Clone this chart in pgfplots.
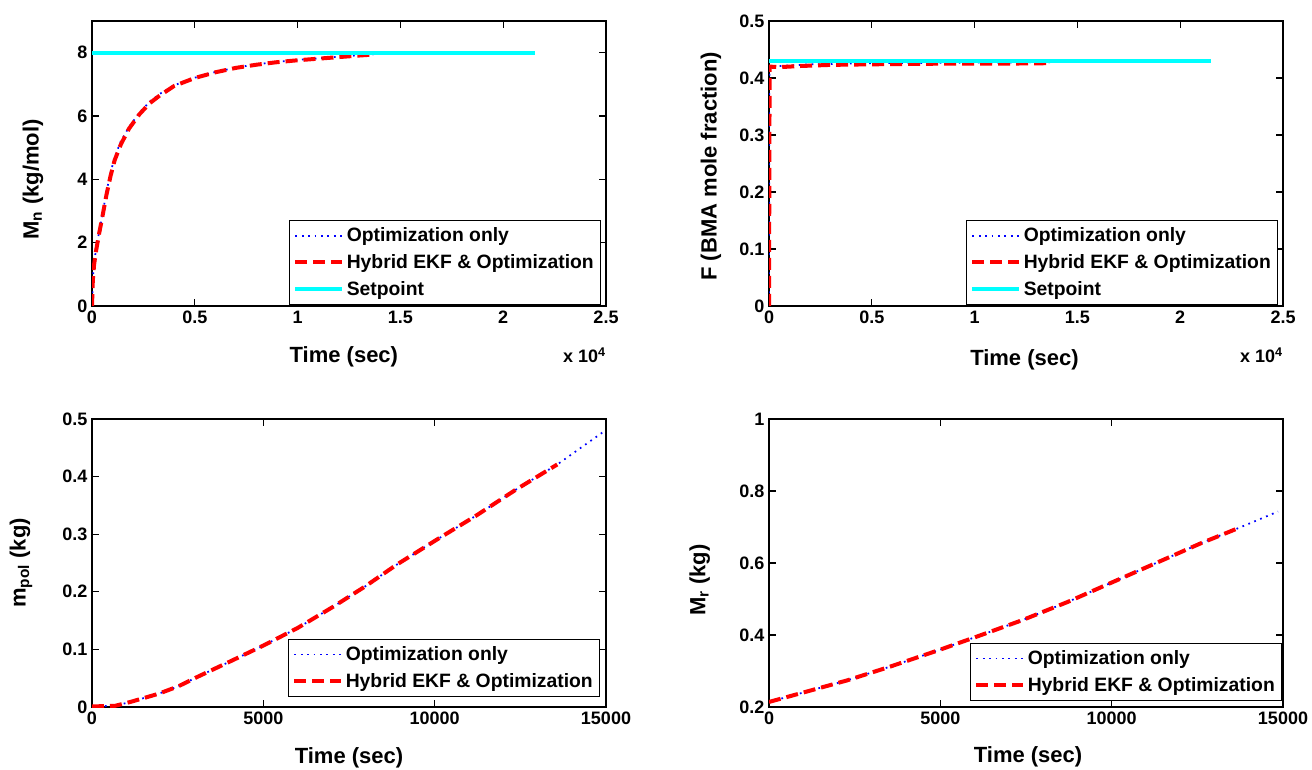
\documentclass[border=0pt]{standalone}
\usepackage{fontspec}
\setmainfont{Liberation Sans}
\usepackage{pgfplots}
\pgfplotsset{compat=1.18}
\definecolor{mcyan}{rgb}{0,1,1}
\definecolor{mblue}{rgb}{0,0,1}
\definecolor{mred}{rgb}{1,0,0}

\pgfplotsset{
  myax/.style={
    scale only axis, width=385.5pt,
    clip mode=individual,
    axis line style={line width=0.9pt},
    every tick/.style={black, line width=0.8pt},
    major tick length=5pt,
    tick align=inside,
    ticklabel style={font=\fontsize{13.5}{13.5}\selectfont\bfseries},
    /pgf/number format/assume math mode=true,
    /pgf/number format/fixed,
    /pgf/number format/1000 sep={},
    scaled ticks=false,
    xlabel style={font=\fontsize{16.5}{16.5}\selectfont\bfseries, anchor=center},
    ylabel style={font=\fontsize{16.5}{16.5}\selectfont\bfseries, anchor=center},
    legend cell align=left,
    legend image code/.code={\draw[##1] (0pt,0pt) -- (35pt,0pt);},
    legend style={font=\fontsize{14.5}{14.5}\selectfont\bfseries, draw=black, line width=0.8pt,
      at={(1,0)}, anchor=south east, inner xsep=3pt, inner ysep=3.5pt, row sep=4pt},
  },
  optonly/.style={mblue, line width=1.3pt, dash pattern=on 1.3pt off 3.5pt},
  hybrid/.style={mred, line width=3pt, dash pattern=on 9pt off 4.5pt},
  setp/.style={mcyan, line width=3pt},
}

\begin{document}
\begin{tikzpicture}
\path[use as bounding box] (0,0) rectangle (984pt,577.5pt);

% ---------- Top-left: Mn ----------
\begin{axis}[myax, at={(69pt,348pt)}, anchor=south west, height=213.75pt,
  xmin=0, xmax=2.5, ymin=0, ymax=9,
  xtick={0,0.5,1,1.5,2,2.5}, ytick={0,2,4,6,8},
  xlabel={Time (sec)}, ylabel={M\textsubscript{n} (kg/mol)},
  xlabel style={at={(axis description cs:0.49,-0.179)}},
  ylabel style={at={(axis description cs:-0.115,0.444)}},
  legend style={xshift=-3.75pt, yshift=0.75pt}]
\addplot[optonly] coordinates {(0,0) (0.004,0.85) (0.01,1.35) (0.02,1.8) (0.035,2.35) (0.05,2.85) (0.07,3.6) (0.09,4.2) (0.11,4.7) (0.14,5.2) (0.18,5.65) (0.23,6.1) (0.28,6.45) (0.33,6.7) (0.4,6.97) (0.5,7.21) (0.6,7.39) (0.7,7.53) (0.8,7.63) (0.9,7.71) (1.0,7.77) (1.1,7.82) (1.2,7.87) (1.3,7.92) (1.37,7.95) (1.45,7.99)};
\addlegendentry{Optimization only}
\addplot[hybrid] coordinates {(0,0) (0.004,0.8) (0.01,1.3) (0.02,1.75) (0.035,2.3) (0.05,2.8) (0.07,3.5) (0.09,4.1) (0.11,4.6) (0.14,5.1) (0.18,5.6) (0.23,6.05) (0.28,6.4) (0.33,6.65) (0.4,6.95) (0.5,7.2) (0.6,7.38) (0.7,7.52) (0.8,7.62) (0.9,7.7) (1.0,7.76) (1.1,7.81) (1.2,7.86) (1.3,7.91) (1.37,7.94)};
\addlegendentry{Hybrid EKF \& Optimization}
\addplot[setp] coordinates {(0,8) (2.155,8)};
\addlegendentry{Setpoint}
\node[anchor=base east, inner sep=0pt, font=\fontsize{13.5}{13.5}\selectfont\bfseries] at (rel axis cs:1,0) [yshift=-42.75pt] {x 10\textsuperscript{4}};
\end{axis}

% ---------- Top-right: F ----------
\begin{axis}[myax, at={(576.75pt,348pt)}, anchor=south west, height=213.75pt,
  xmin=0, xmax=2.5, ymin=0, ymax=0.5,
  xtick={0,0.5,1,1.5,2,2.5}, ytick={0,0.1,0.2,0.3,0.4,0.5},
  xlabel={Time (sec)}, ylabel={F (BMA mole fraction)},
  xlabel style={at={(axis description cs:0.497,-0.19)}},
  ylabel style={at={(axis description cs:-0.113,0.49)}},
  legend style={xshift=-3.75pt, yshift=0.75pt}]
\addplot[optonly] coordinates {(0,0) (0.002,0.42) (0.05,0.421) (0.2,0.424) (0.5,0.426) (1.0,0.427) (1.47,0.428)};
\addlegendentry{Optimization only}
\addplot[hybrid] coordinates {(0,0) (0.003,0.42) (0.05,0.419) (0.15,0.421) (0.3,0.423) (0.5,0.424) (0.8,0.425) (1.1,0.425) (1.37,0.426)};
\addlegendentry{Hybrid EKF \& Optimization}
\addplot[setp] coordinates {(0,0.43) (2.15,0.43)};
\addlegendentry{Setpoint}
\node[anchor=base east, inner sep=0pt, font=\fontsize{13.5}{13.5}\selectfont\bfseries] at (rel axis cs:1,0) [yshift=-42.75pt] {x 10\textsuperscript{4}};
\end{axis}

% ---------- Bottom-left: m_pol ----------
\begin{axis}[myax, at={(69pt,47.25pt)}, anchor=south west, height=216pt,
  xmin=0, xmax=15000, ymin=0, ymax=0.5,
  xtick={0,5000,10000,15000}, ytick={0,0.1,0.2,0.3,0.4,0.5},
  xlabel={Time (sec)}, ylabel={m\textsubscript{pol} (kg)},
  xlabel style={at={(axis description cs:0.5,-0.177)}},
  ylabel style={at={(axis description cs:-0.138,0.5)}},
  legend style={xshift=-4.5pt, yshift=7.5pt}]
\addplot[optonly] coordinates {(0,0.001) (671,0.002) (1134,0.009) (1944,0.023) (2523,0.036) (3102,0.053) (4028,0.079) (5012,0.107) (5995,0.137) (7037,0.174) (7963,0.209) (8889,0.247) (10046,0.290) (11204,0.332) (12361,0.377) (13576,0.421) (14907,0.477)};
\addlegendentry{Optimization only}
\addplot[hybrid] coordinates {(0,0.001) (671,0.002) (1134,0.009) (1944,0.023) (2523,0.036) (3102,0.053) (4028,0.079) (5012,0.107) (5995,0.137) (7037,0.174) (7963,0.209) (8889,0.247) (10046,0.290) (11204,0.332) (12361,0.377) (13576,0.421)};
\addlegendentry{Hybrid EKF \& Optimization}
\end{axis}

% ---------- Bottom-right: M_r ----------
\begin{axis}[myax, at={(576.75pt,47.25pt)}, anchor=south west, height=216pt,
  xmin=0, xmax=15000, ymin=0.2, ymax=1,
  xtick={0,5000,10000,15000}, ytick={0.2,0.4,0.6,0.8,1},
  xlabel={Time (sec)}, ylabel={M\textsubscript{r} (kg)},
  xlabel style={at={(axis description cs:0.504,-0.174)}},
  ylabel style={at={(axis description cs:-0.135,0.441)}},
  legend style={xshift=-0.75pt, yshift=4.5pt}]
\addplot[optonly] coordinates {(0,0.214) (1069,0.242) (2283,0.274) (3498,0.311) (4956,0.358) (6049,0.395) (7385,0.441) (8721,0.492) (9935,0.543) (11393,0.604) (12607,0.655) (13700,0.697) (14854,0.743)};
\addlegendentry{Optimization only}
\addplot[hybrid] coordinates {(0,0.214) (1069,0.242) (2283,0.274) (3498,0.311) (4956,0.358) (6049,0.395) (7385,0.441) (8721,0.492) (9935,0.543) (11393,0.604) (12607,0.655) (13700,0.697)};
\addlegendentry{Hybrid EKF \& Optimization}
\end{axis}
\end{tikzpicture}
\end{document}
